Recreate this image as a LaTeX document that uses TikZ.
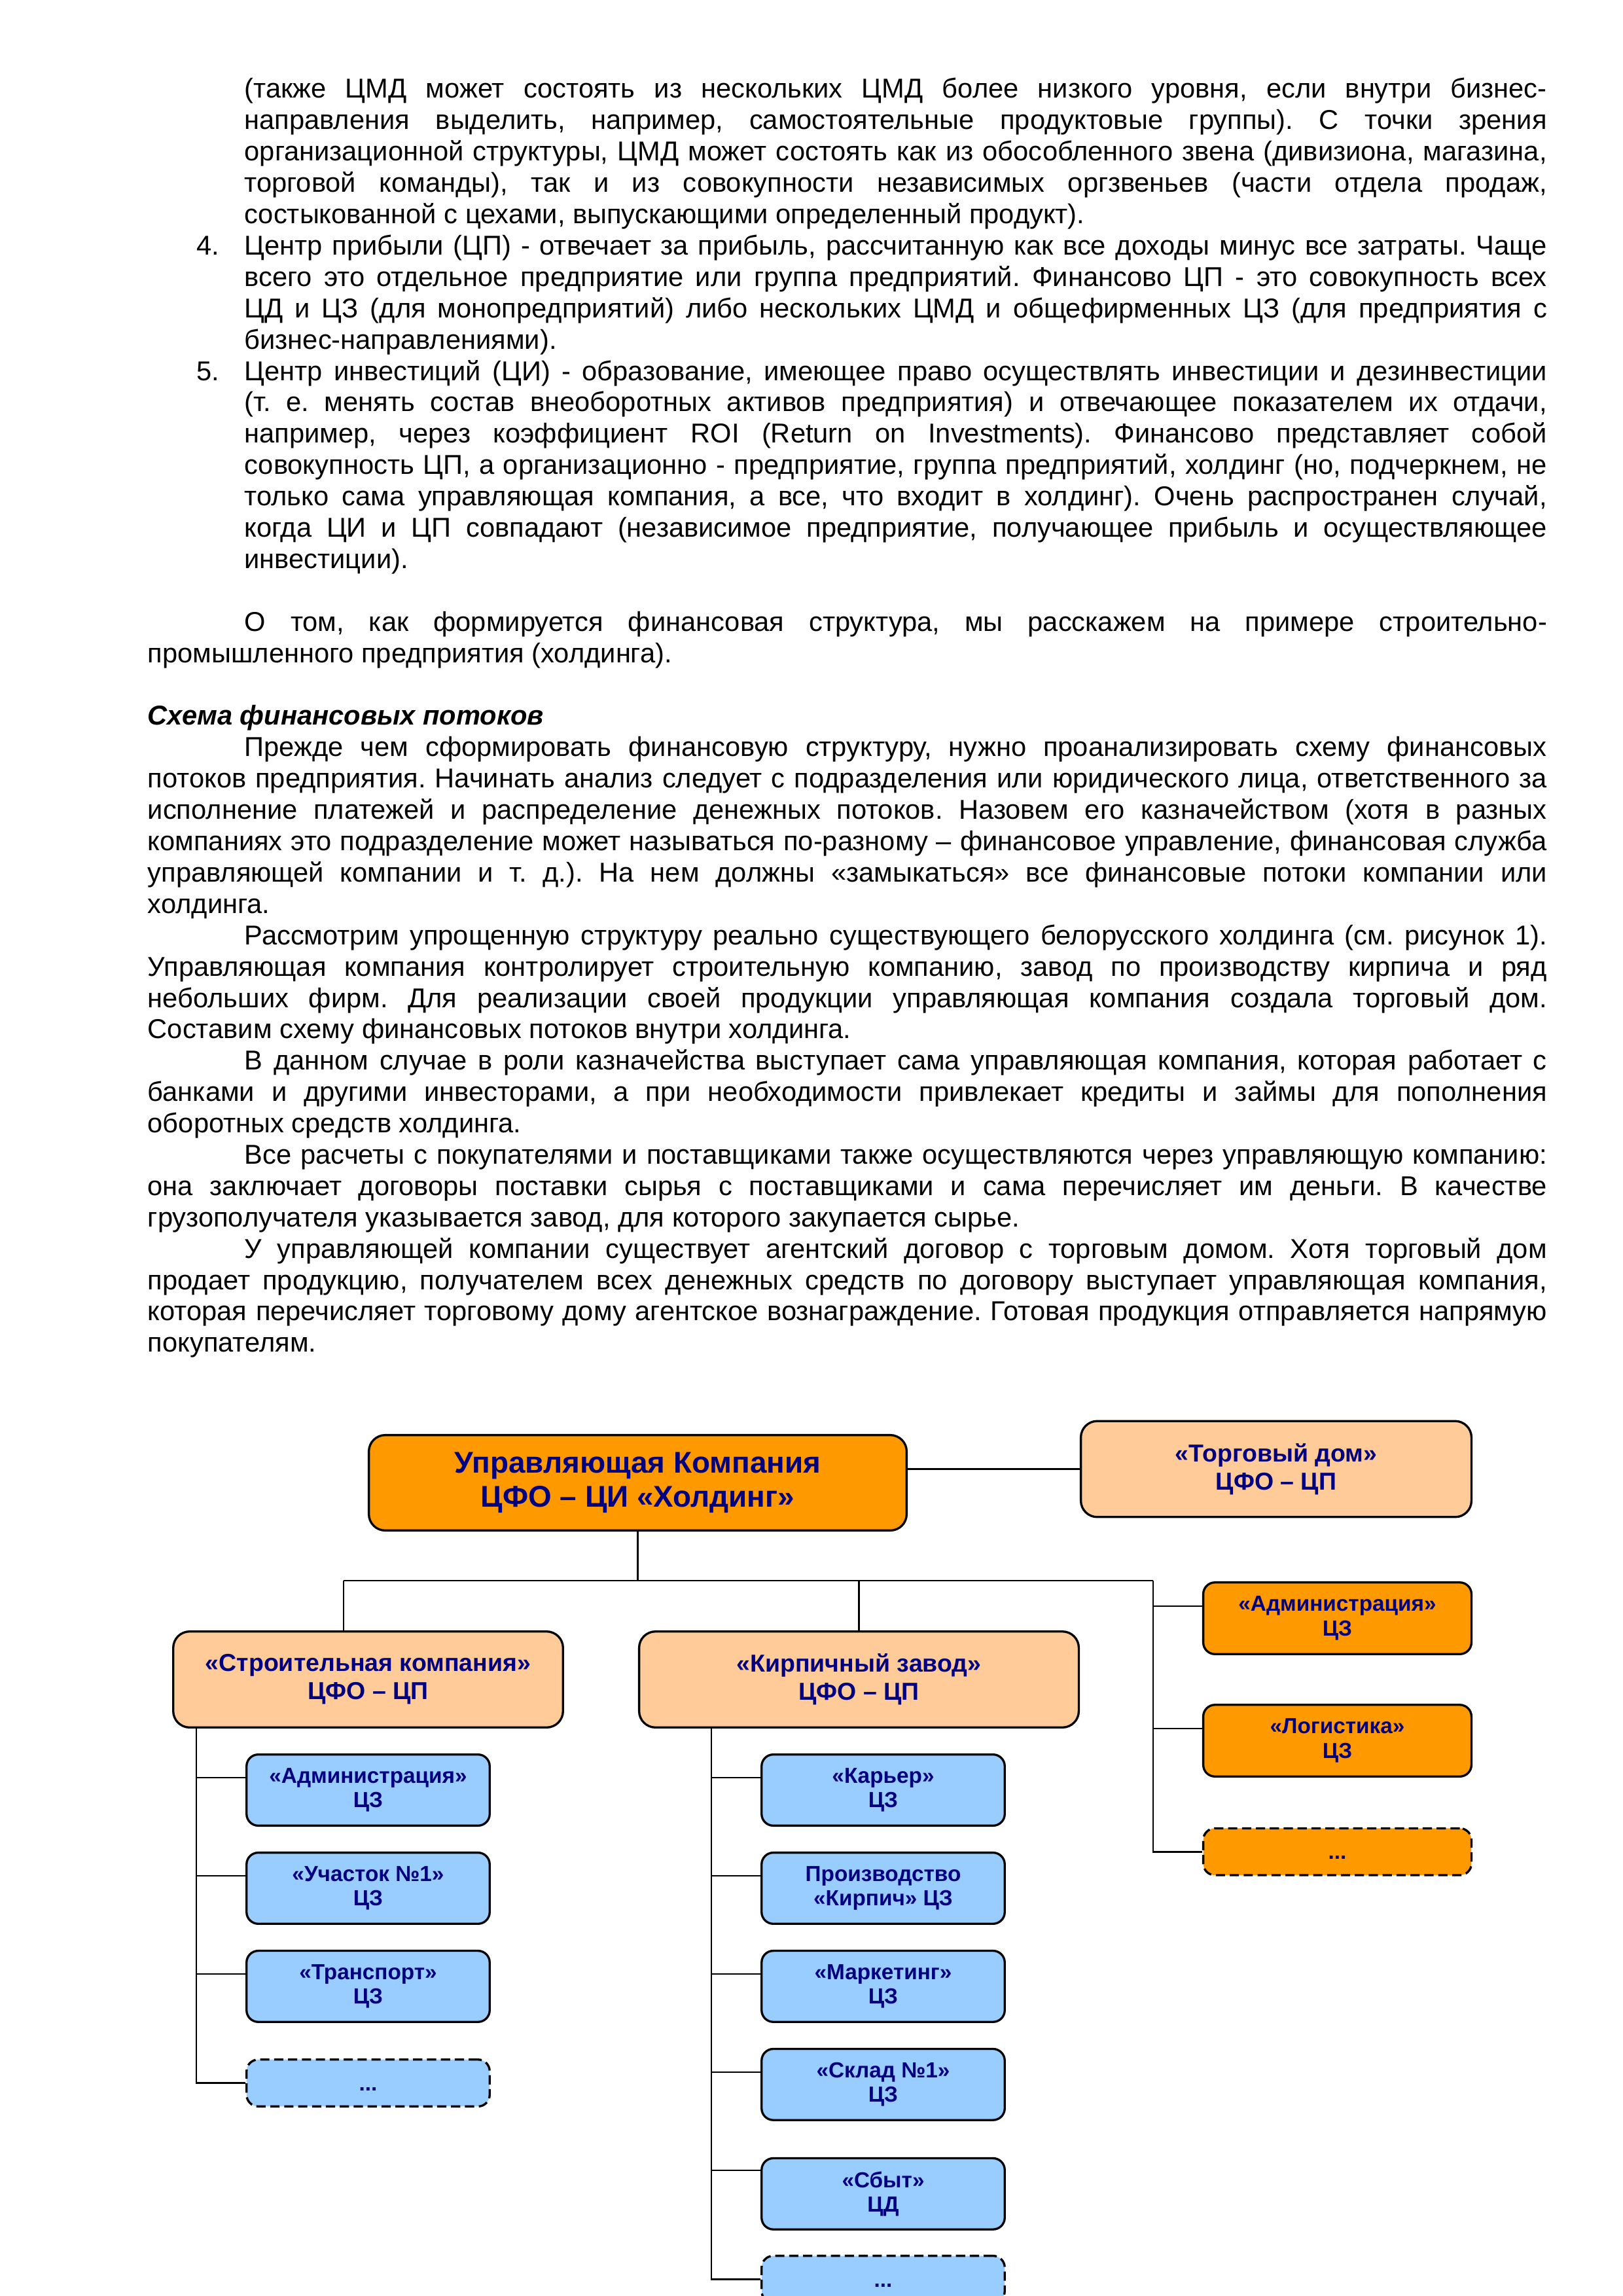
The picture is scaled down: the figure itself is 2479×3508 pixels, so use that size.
\documentclass[tikz,border=0pt]{standalone}
\usepackage{fontspec}
\setmainfont{Liberation Sans}
\usetikzlibrary{positioning}
\definecolor{navy}{HTML}{000080}
\definecolor{orng}{HTML}{FF9900}
\definecolor{peach}{HTML}{FFCC99}
\definecolor{sky}{HTML}{99CCFF}
\newdimen\ux \ux=0.2401pt

\begin{document}
\begin{tikzpicture}[x=\ux, y=-\ux,
    box/.style={draw, line width=0.8pt, rounded corners=4.3pt, align=center, text=navy, inner sep=0pt,
                font=\bfseries\fontsize{8pt}{9pt}\selectfont},
    hold/.style={box, fill=orng, rounded corners=6pt, minimum width=197.3pt, minimum height=35pt,
                 font=\bfseries\fontsize{11pt}{12.6pt}\selectfont},
    firm/.style={box, fill=peach, rounded corners=6pt, minimum height=35.2pt,
                 font=\bfseries\fontsize{9pt}{10.35pt}\selectfont},
    unit/.style={box, fill=sky, minimum width=89.2pt, minimum height=26.1pt,
                 execute at begin node={\rule{0pt}{8.3pt}}},
    dept/.style={box, fill=orng, minimum width=98.4pt, minimum height=26.3pt,
                 execute at begin node={\rule{0pt}{8.3pt}}},
    more/.style={dash pattern=on 3.4pt off 1.7pt, minimum height=17.2pt},
    wire/.style={line width=0.6pt}]
    \path[use as bounding box, fill=white] (0,0) rectangle (2479,3508);
    \clip (0,0) rectangle (2479,3508);

    \node[anchor=base west, inner sep=0pt, text width=513.3pt, align=justify, font=\fontsize{10pt}{11.5pt}\selectfont] (txt) at (225,150) {%
        \frenchspacing \tolerance=10000 \hbadness=10000 \hyphenpenalty=10000 \parindent=35.5pt
        \rightskip=0pt \leftskip=0pt \parfillskip=0pt plus 1fil
        \begingroup\leftskip=35.5pt\noindent
        (также ЦМД может состоять из нескольких ЦМД более низкого уровня, если внутри бизнес-\linebreak{}направления
        выделить, например, самостоятельные продуктовые группы). С точки зрения\linebreak
        организационной структуры, ЦМД может состоять как из обособленного звена (дивизиона, магазина,\linebreak
        торговой команды), так и из совокупности независимых оргзвеньев (части отдела продаж,\linebreak
        состыкованной с цехами, выпускающими определенный продукт).\par
        \noindent\llap{\makebox[17.5pt][l]{4.}}Центр прибыли (ЦП) - отвечает за прибыль, рассчитанную как все доходы минус все затраты. Чаще\linebreak
        всего это отдельное предприятие или группа предприятий. Финансово ЦП - это совокупность всех\linebreak
        ЦД и ЦЗ (для монопредприятий) либо нескольких ЦМД и общефирменных ЦЗ (для предприятия с\linebreak
        бизнес-направлениями).\par
        \noindent\llap{\makebox[17.5pt][l]{5.}}Центр инвестиций (ЦИ) - образование, имеющее право осуществлять инвестиции и дезинвестиции\linebreak
        (т. е. менять состав внеоборотных активов предприятия) и отвечающее показателем их отдачи,\linebreak
        например, через коэффициент ROI (Return on Investments). Финансово представляет собой\linebreak
        совокупность ЦП, а организационно - предприятие, группа предприятий, холдинг (но, подчеркнем, не\linebreak
        только сама управляющая компания, а все, что входит в холдинг). Очень распространен случай,\linebreak
        когда ЦИ и ЦП совпадают (независимое предприятие, получающее прибыль и осуществляющее\linebreak
        инвестиции).\par
        \endgroup
        \vspace{11.5pt}
        О том, как формируется финансовая структура, мы расскажем на примере строительно-\linebreak{}промышленного
        предприятия (холдинга).\par
        \vspace{11.5pt}
        \noindent\textbf{\textit{Схема финансовых потоков}}\par
        Прежде чем сформировать финансовую структуру, нужно проанализировать схему финансовых\linebreak
        потоков предприятия. Начинать анализ следует с подразделения или юридического лица, ответственного за\linebreak
        исполнение платежей и распределение денежных потоков. Назовем его казначейством (хотя в разных\linebreak
        компаниях это подразделение может называться по-разному – финансовое управление, финансовая служба\linebreak
        управляющей компании и т. д.). На нем должны «замыкаться» все финансовые потоки компании или\linebreak
        холдинга.\par
        Рассмотрим упрощенную структуру реально существующего белорусского холдинга (см. рисунок 1).\linebreak
        Управляющая компания контролирует строительную компанию, завод по производству кирпича и ряд\linebreak
        небольших фирм. Для реализации своей продукции управляющая компания создала торговый дом.\linebreak
        Составим схему финансовых потоков внутри холдинга.\par
        В данном случае в роли казначейства выступает сама управляющая компания, которая работает с\linebreak
        банками и другими инвесторами, а при необходимости привлекает кредиты и займы для пополнения\linebreak
        оборотных средств холдинга.\par
        Все расчеты с покупателями и поставщиками также осуществляются через управляющую компанию:\linebreak
        она заключает договоры поставки сырья с поставщиками и сама перечисляет им деньги. В качестве\linebreak
        грузополучателя указывается завод, для которого закупается сырье.\par
        У управляющей компании существует агентский договор с торговым домом. Хотя торговый дом\linebreak
        продает продукцию, получателем всех денежных средств по договору выступает управляющая компания,\linebreak
        которая перечисляет торговому дому агентское вознаграждение. Готовая продукция отправляется напрямую\linebreak
        покупателям.\par};

    \node[hold] (UK) at (974.5,2265.5) {Управляющая Компания\\ЦФО – ЦИ «Холдинг»};
    \node[firm, minimum width=143.3pt] (TD) at (1950,2244.5) {«Торговый дом»\\ЦФО – ЦП};
    \node[firm, minimum width=143pt] (SK) at (562.5,2566) {«Строительная компания»\\ЦФО – ЦП};
    \node[firm, minimum width=161.3pt] (KZ) at (1312.5,2566) {«Кирпичный завод»\\ЦФО – ЦП};

    \node[dept] (RA) at (2043.5,2472.5) {«Администрация»\\ЦЗ};
    \node[dept, below=17.8pt of RA] (RL) {«Логистика»\\ЦЗ};
    \node[dept, more, below=18.2pt of RL] (RD) {\strut...};

    \node[unit] (SA) at (562.5,2735) {«Администрация»\\ЦЗ};
    \node[unit, below=9.1pt of SA] (SB) {«Участок №1»\\ЦЗ};
    \node[unit, below=9.1pt of SB] (SC) {«Транспорт»\\ЦЗ};
    \node[unit, more, below=13pt of SC] (SD) {\strut...};

    \node[unit] (MA) at (1349.5,2735) {«Карьер»\\ЦЗ};
    \node[unit, below=9.1pt of MA] (MB) {Производство\\«Кирпич» ЦЗ};
    \node[unit, below=9.1pt of MB] (MC) {«Маркетинг»\\ЦЗ};
    \node[unit, below=9.1pt of MC] (MD) {«Склад №1»\\ЦЗ};
    \node[unit, below=13.2pt of MD] (ME) {«Сбыт»\\ЦД};
    \node[unit, more, below=8.9pt of ME] (MF) {\strut...};

    \coordinate (BL) at (525,2415);
    \coordinate (BR) at (1762,2415);
    \coordinate (SV) at ([xshift=8.9pt]SK.south west);
    \coordinate (KV) at ([xshift=26.9pt]KZ.south west);

    \draw[wire] (TD.west) -- (TD.west -| UK.east);
    \draw[wire] (UK.south) -- (UK.south |- BL);
    \draw[wire] (BL) -- (BR);
    \draw[wire] (BL) -- (BL |- SK.north);
    \draw[wire] (KZ.north) -- (KZ.north |- BL);
    \draw[wire] ([yshift=-9.1pt]RA.north west) -| (BR);
    \draw[wire] ([yshift=-9.1pt]RL.north west) -| (BR);
    \draw[wire] (RD.west) -| (BR);
    \draw[wire] ([yshift=-8.9pt]SA.north west) -| (SV);
    \draw[wire] ([yshift=-8.9pt]SB.north west) -| (SV);
    \draw[wire] ([yshift=-8.9pt]SC.north west) -| (SV);
    \draw[wire] (SD.west) -| (SV);
    \draw[wire] ([yshift=-8.9pt]MA.north west) -| (KV);
    \draw[wire] ([yshift=-8.9pt]MB.north west) -| (KV);
    \draw[wire] ([yshift=-8.9pt]MC.north west) -| (KV);
    \draw[wire] ([yshift=-8.9pt]MD.north west) -| (KV);
    \draw[wire] ([yshift=-4.8pt]ME.north west) -| (KV);
    \draw[wire] (MF.west) -| (KV);
\end{tikzpicture}
\end{document}
